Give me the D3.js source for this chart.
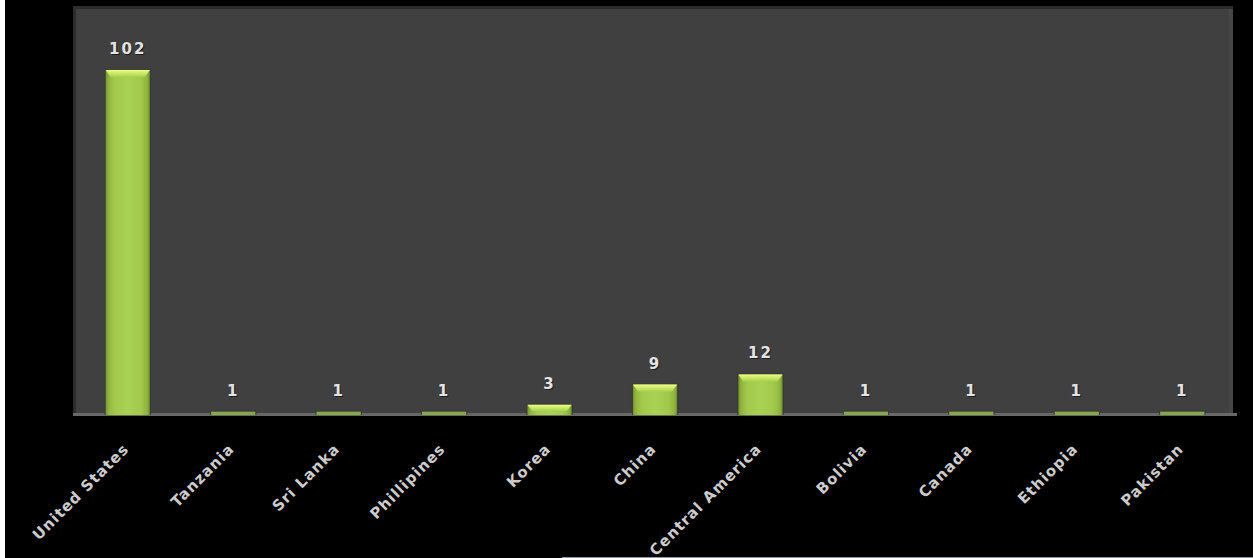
<!DOCTYPE html>
<html><head><meta charset="utf-8">
<script src="https://cdn.jsdelivr.net/npm/d3@7"></script>
<style>
html,body{margin:0;padding:0;background:#000;overflow:hidden}
svg{display:block}
</style></head>
<body>
<svg id="chart" width="1253" height="558"></svg>
<script>
const categories = ["United States","Tanzania","Sri Lanka","Phillipines","Korea","China","Central America","Bolivia","Canada","Ethiopia","Pakistan"];
const values = [102,1,1,1,3,9,12,1,1,1,1];
const yDomain = [0,120];

const svg = d3.select("#chart");
const W = 1253, H = 558;
const plot = {left:73, right:1233, top:6, bottom:416};

svg.append("rect").attr("width",W).attr("height",H).attr("fill","#000");
svg.append("rect").attr("x",0).attr("y",0).attr("width",5).attr("height",H).attr("fill","#fff");
svg.append("line").attr("x1",562).attr("x2",W).attr("y1",557.5).attr("y2",557.5).attr("stroke","#8c96a4").attr("stroke-width",1);

const defs = svg.append("defs");
const gH = defs.append("linearGradient").attr("id","barH").attr("x1","0").attr("x2","1").attr("y1","0").attr("y2","0");
[[0,"#6f8f2c"],[0.06,"#8fb43e"],[0.2,"#a2c94c"],[0.5,"#a9d152"],[0.8,"#a2c94c"],[0.94,"#8fb43e"],[1,"#6f8f2c"]]
  .forEach(([o,c])=>gH.append("stop").attr("offset",o).attr("stop-color",c));
const gV = defs.append("linearGradient").attr("id","bevel").attr("x1","0").attr("x2","0").attr("y1","0").attr("y2","1");
[[0,"#f0ff90"],[0.3,"#d8f070"],[1,"#a9d152"]].forEach(([o,c])=>gV.append("stop").attr("offset",o).attr("stop-color",c));

// plot background
svg.append("rect").attr("x",plot.left).attr("y",plot.top).attr("width",plot.right-plot.left).attr("height",plot.bottom-plot.top).attr("fill","#2c2c2c");
svg.append("rect").attr("x",plot.left+3).attr("y",plot.top+3).attr("width",plot.right-plot.left-3).attr("height",plot.bottom-plot.top-3).attr("fill","#404040");
svg.append("rect").attr("x",plot.right-4).attr("y",plot.top+3).attr("width",4).attr("height",plot.bottom-plot.top-3).attr("fill","#464646");

const x = d3.scaleBand().domain(categories).range([75,1235]).paddingInner(0.58).paddingOuter(0.29);
const y = d3.scaleLinear().domain(yDomain).range([415,9]);

// axis line
svg.append("rect").attr("x",plot.left).attr("y",413).attr("width",plot.right-plot.left+4).attr("height",3).attr("fill","#686868");

const data = categories.map((c,i)=>({c, v:values[i]}));
const bars = svg.append("g").selectAll("g").data(data).join("g");
bars.append("rect")
  .attr("x",d=>x(d.c)-1).attr("y",d=>y(d.v)-1)
  .attr("width",x.bandwidth()+2).attr("height",d=>y(0)-y(d.v)+1)
  .attr("fill","#363636");
bars.append("rect")
  .attr("x",d=>x(d.c)).attr("y",d=>y(d.v))
  .attr("width",x.bandwidth()).attr("height",d=>y(0)-y(d.v))
  .attr("fill",d=> d.v<2 ? "#86a84a" : "url(#barH)");
bars.filter(d=>d.v>=2).append("path")
  .attr("d",d=>{
    const x0=x(d.c), w=x.bandwidth(), t=y(d.v), h=Math.min(7,(y(0)-y(d.v))*0.6);
    return `M${x0},${t}L${x0+w},${t}L${x0+w-5},${t+h}L${x0+5},${t+h}Z`;
  })
  .attr("fill","url(#bevel)");

// value labels
const vl = svg.append("g").attr("font-family","DejaVu Sans, sans-serif").attr("font-weight","bold").attr("font-size",15).attr("text-anchor","middle");
vl.selectAll("text.s").data(data).join("text").attr("class","s")
  .attr("x",d=>x(d.c)+x.bandwidth()/2+1).attr("y",d=>y(d.v)-16+1)
  .attr("fill","#1c1c1c").attr("letter-spacing",2).text(d=>d.v);
vl.selectAll("text.v").data(data).join("text").attr("class","v")
  .attr("x",d=>x(d.c)+x.bandwidth()/2).attr("y",d=>y(d.v)-16)
  .attr("fill","#e4e4e4").attr("letter-spacing",2).text(d=>d.v);

// x axis labels
const xl = svg.append("g").attr("font-family","DejaVu Sans, sans-serif").attr("font-weight","bold").attr("font-size",15);
xl.selectAll("text").data(categories).join("text")
  .attr("transform",c=>`translate(${x(c)+x.bandwidth()/2+2},${450}) rotate(-45)`)
  .attr("text-anchor","end").attr("letter-spacing",1).attr("fill","#cccccc").text(c=>c);
</script>
</body></html>
